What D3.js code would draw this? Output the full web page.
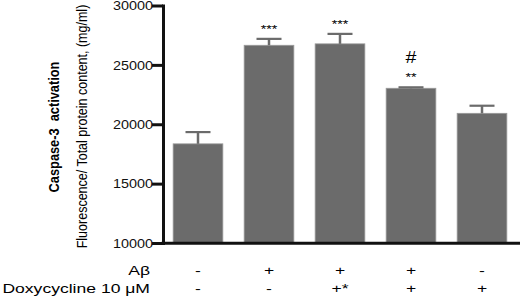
<!DOCTYPE html>
<html lang="en">
<head>
<meta charset="UTF-8">
<title>Caspase-3 activation</title>
<script src="https://d3js.org/d3.v7.min.js"></script>
<style>
  body { margin: 0; background: #fff; }
  svg { font-family: "Liberation Sans", Arial, sans-serif; display: block; }
</style>
</head>
<body>
<svg width="520" height="307"></svg>
<script>
const groups = ["ctrl", "abeta", "abeta_doxy_pre", "abeta_doxy", "doxy"];
const meanValues = [18350, 26650, 26770, 23030, 20920];
const semValues = [990, 540, 840, 80, 640];
const starMarks = ["", "***", "***", "**", ""];
const hashMarks = ["", "", "", "#", ""];
const abetaRow = ["-", "+", "+", "+", "-"];
const doxyRow = ["-", "-", "+*", "+", "+"];
const yTicks = [10000, 15000, 20000, 25000, 30000];

const data = groups.map((g, i) => ({
  g, mean: meanValues[i], sem: semValues[i],
  stars: starMarks[i], hash: hashMarks[i],
  abeta: abetaRow[i], doxy: doxyRow[i]
}));

const svg = d3.select("svg");
const barColor = "#6b6b6b";
const axisX = 163, plotBottom = 243, plotTop = 5.5;

const x = d3.scaleBand()
  .domain(groups)
  .range([162.5, 517.5])
  .paddingInner(0.3)
  .paddingOuter(0.15);

const y = d3.scaleLinear()
  .domain([10000, 30000])
  .range([plotBottom, plotTop]);

// the source picture is stretched sideways, so text gets a scaleX
function label(parent, cx, cy, str, size, k, anchor, weight) {
  return parent.append("text")
    .attr("transform", `translate(${cx},${cy}) scale(${k},1)`)
    .attr("text-anchor", anchor || "middle")
    .style("font-size", size + "px")
    .style("font-weight", weight || "normal")
    .text(str);
}

// Bars
svg.selectAll(".bar")
  .data(data)
  .enter()
  .append("rect")
  .attr("class", "bar")
  .attr("x", d => x(d.g))
  .attr("y", d => y(d.mean))
  .attr("width", x.bandwidth())
  .attr("height", d => plotBottom - y(d.mean))
  .attr("fill", barColor)
  .attr("stroke", "#9a9a9a")
  .attr("stroke-width", 0.8);

// Error bars (upper only)
const err = svg.selectAll(".err")
  .data(data)
  .enter()
  .append("g")
  .attr("class", "err")
  .attr("stroke", barColor);

err.append("line")
  .attr("x1", d => x(d.g) + x.bandwidth() / 2)
  .attr("x2", d => x(d.g) + x.bandwidth() / 2)
  .attr("y1", d => y(d.mean))
  .attr("y2", d => y(d.mean + d.sem))
  .attr("stroke-width", 2.5);

err.append("line")
  .attr("x1", d => x(d.g) + x.bandwidth() / 2 - 12.5)
  .attr("x2", d => x(d.g) + x.bandwidth() / 2 + 12.5)
  .attr("y1", d => y(d.mean + d.sem))
  .attr("y2", d => y(d.mean + d.sem))
  .attr("stroke-width", 2.2);

// Significance marks
data.forEach(d => {
  const cx = x(d.g) + x.bandwidth() / 2;
  const base = y(d.mean + d.sem) - 6;
  if (d.stars) label(svg, cx, base, d.stars, 11, 1.3);
  if (d.hash) label(svg, cx, base - 18, d.hash, 17, 1.15);
});

// Y axis
const yAxis = svg.append("g")
  .attr("transform", `translate(${axisX},0)`)
  .call(d3.axisLeft(y).tickValues(yTicks).tickSize(11).tickSizeOuter(0).tickFormat(d3.format("d")));

yAxis.select(".domain")
  .attr("stroke", "#111")
  .attr("stroke-width", 3)
  .attr("stroke-linecap", "square");
yAxis.selectAll(".tick line")
  .attr("stroke", "#111")
  .attr("stroke-width", 3);
yAxis.selectAll(".tick text")
  .attr("x", null)
  .attr("dy", "0.36em")
  .attr("transform", "translate(-10,0) scale(1.2,1)")
  .attr("fill", "#111")
  .style("font-size", "12px")
  .style("font-family", "'Liberation Sans', Arial, sans-serif");

// X axis baseline
svg.append("line")
  .attr("x1", axisX - 1.5)
  .attr("x2", 520)
  .attr("y1", y(10000) + 0.3)
  .attr("y2", y(10000) + 0.3)
  .attr("stroke", "#111")
  .attr("stroke-width", 3);

// Treatment rows
label(svg, 150, 274.5, "A\u03b2", 13, 1.35, "end");
label(svg, 150, 292.5, "Doxycycline 10 \u03bcM", 13, 1.35, "end");
data.forEach(d => {
  const cx = x(d.g) + x.bandwidth() / 2;
  label(svg, cx, 274.5, d.abeta, 13, 1.35);
  label(svg, cx, 292.5, d.doxy, 13, 1.35);
});

// Y titles
svg.append("text")
  .attr("transform", "translate(59,127) scale(1.2,1) rotate(-90)")
  .attr("text-anchor", "middle")
  .style("font-size", "12.8px")
  .style("font-weight", "bold")
  .style("white-space", "pre")
  .text("Caspase-3  activation");

svg.append("text")
  .attr("transform", "translate(87,126.5) scale(1.15,1) rotate(-90)")
  .attr("text-anchor", "middle")
  .style("font-size", "12.5px")
  .text("Fluorescence/ Total protein content, (mg/ml)");
</script>
</body>
</html>
